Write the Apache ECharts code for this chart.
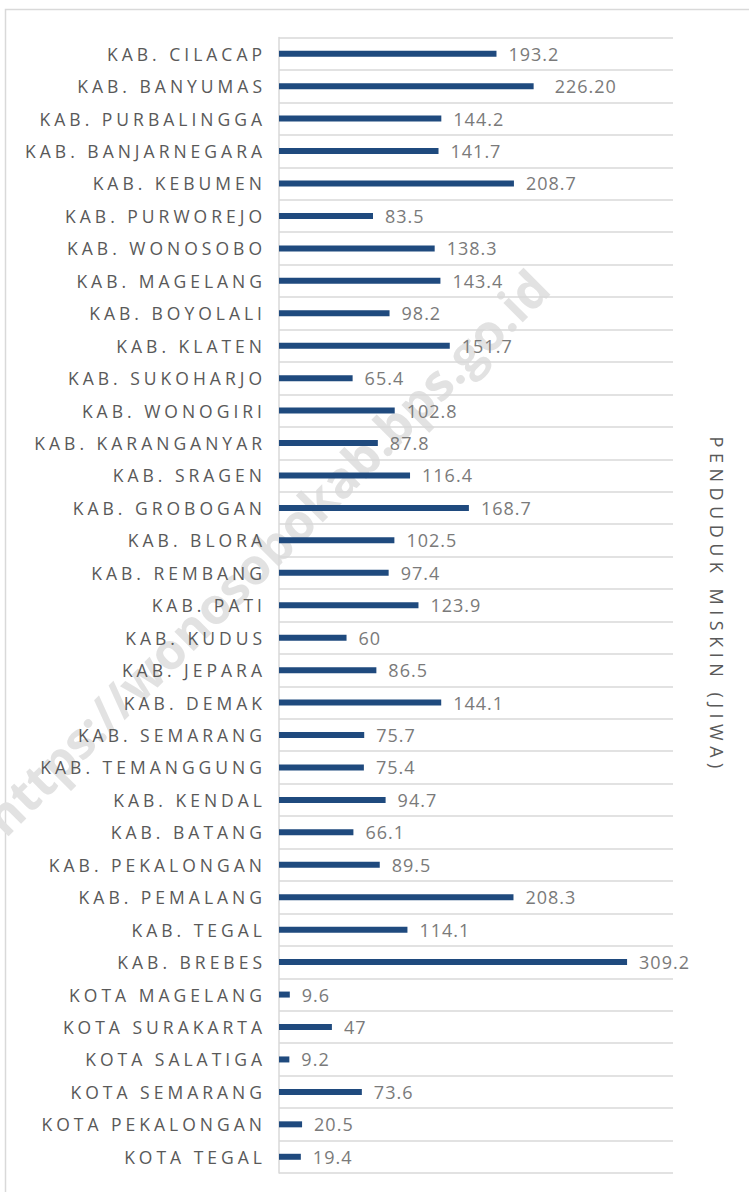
<!DOCTYPE html>
<html>
<head>
<meta charset="utf-8">
<script src="https://cdn.jsdelivr.net/npm/echarts@6/dist/echarts.min.js"></script>
<style>
html,body{margin:0;padding:0;background:#fff;}
#chart{width:749px;height:1192px;}
</style>
</head>
<body>
<div id="chart"></div>
<script>
const categories = [
  'KAB. CILACAP','KAB. BANYUMAS','KAB. PURBALINGGA','KAB. BANJARNEGARA','KAB. KEBUMEN',
  'KAB. PURWOREJO','KAB. WONOSOBO','KAB. MAGELANG','KAB. BOYOLALI','KAB. KLATEN',
  'KAB. SUKOHARJO','KAB. WONOGIRI','KAB. KARANGANYAR','KAB. SRAGEN','KAB. GROBOGAN',
  'KAB. BLORA','KAB. REMBANG','KAB. PATI','KAB. KUDUS','KAB. JEPARA',
  'KAB. DEMAK','KAB. SEMARANG','KAB. TEMANGGUNG','KAB. KENDAL','KAB. BATANG',
  'KAB. PEKALONGAN','KAB. PEMALANG','KAB. TEGAL','KAB. BREBES','KOTA MAGELANG',
  'KOTA SURAKARTA','KOTA SALATIGA','KOTA SEMARANG','KOTA PEKALONGAN','KOTA TEGAL'
];
const values = [
  193.2,226.2,144.2,141.7,208.7,
  83.5,138.3,143.4,98.2,151.7,
  65.4,102.8,87.8,116.4,168.7,
  102.5,97.4,123.9,60,86.5,
  144.1,75.7,75.4,94.7,66.1,
  89.5,208.3,114.1,309.2,9.6,
  47,9.2,73.6,20.5,19.4
];
const valueLabels = [
  '193.2','226.20','144.2','141.7','208.7',
  '83.5','138.3','143.4','98.2','151.7',
  '65.4','102.8','87.8','116.4','168.7',
  '102.5','97.4','123.9','60','86.5',
  '144.1','75.7','75.4','94.7','66.1',
  '89.5','208.3','114.1','309.2','9.6',
  '47','9.2','73.6','20.5','19.4'
];
const axisTitle = 'PENDUDUK MISKIN (JIWA)';
const watermark = 'https://wonosobokab.bps.go.id';

const FONT = '"Open Sans", Lato, sans-serif';
const chart = echarts.init(document.getElementById('chart'), null, {renderer: 'svg'});

chart.setOption({
  animation: false,
  backgroundColor: '#ffffff',
  graphic: [
    {
      type: 'rect', z: -10, silent: true,
      shape: {x: 5.5, y: 9.5, width: 800, height: 1250},
      style: {fill: 'none', stroke: '#d9d9d9', lineWidth: 1.5}
    },
    {
      type: 'text', z: -5, silent: true,
      x: 266, y: 552, rotation: Math.PI / 4,
      style: {
        text: watermark, fill: '#e2e2e2',
        font: 'bold 50px "Open Sans", "Liberation Sans", sans-serif',
        textAlign: 'center', textVerticalAlign: 'middle',
        align: 'center', verticalAlign: 'middle'
      }
    }
  ],
  grid: {left: 279, right: 76, top: 37.5, bottom: 19, containLabel: false},
  xAxis: {
    type: 'value', min: 0, max: 350,
    axisLabel: {show: false}, axisLine: {show: false},
    axisTick: {show: false}, splitLine: {show: false}
  },
  yAxis: [
    {
      type: 'category', data: categories, inverse: true,
      axisLine: {show: true, lineStyle: {color: '#d9d9d9', width: 1.5}},
      axisTick: {show: false},
      splitLine: {show: true, lineStyle: {color: '#d9d9d9', width: 1.5}},
      axisLabel: {color: '#595959', fontSize: 17.5, fontFamily: FONT, margin: 13, interval: 0}
    },
    {
      type: 'category', data: categories, inverse: true, position: 'right',
      axisLine: {show: false}, axisTick: {show: false}, axisLabel: {show: false},
      splitLine: {show: false},
      name: axisTitle, nameLocation: 'middle', nameRotate: -90, nameGap: 35,
      nameTextStyle: {color: '#595959', fontSize: 18, fontFamily: FONT}
    }
  ],
  series: [{
    type: 'bar', yAxisIndex: 0, barWidth: 6,
    data: values.map((v, i) => valueLabels[i] === '226.20' ? {value: v, label: {distance: 21}} : v),
    itemStyle: {color: '#1f4a7e'},
    emphasis: {disabled: true}, silent: true,
    label: {
      show: true, position: 'right', distance: 12,
      color: '#7a7a7a', fontSize: 18, fontFamily: FONT,
      formatter: p => valueLabels[p.dataIndex]
    }
  }]
});

function spaceText() {
  const catSet = new Set(categories);
  document.querySelectorAll('#chart svg text').forEach(t => {
    const s = t.textContent;
    if (catSet.has(s)) t.style.letterSpacing = '4px';
    else if (s === axisTitle) t.style.letterSpacing = '5.5px';
    else if (valueLabels.indexOf(s) >= 0) t.style.letterSpacing = '1px';
  });
}
chart.on('finished', spaceText);
spaceText();
</script>
</body>
</html>
